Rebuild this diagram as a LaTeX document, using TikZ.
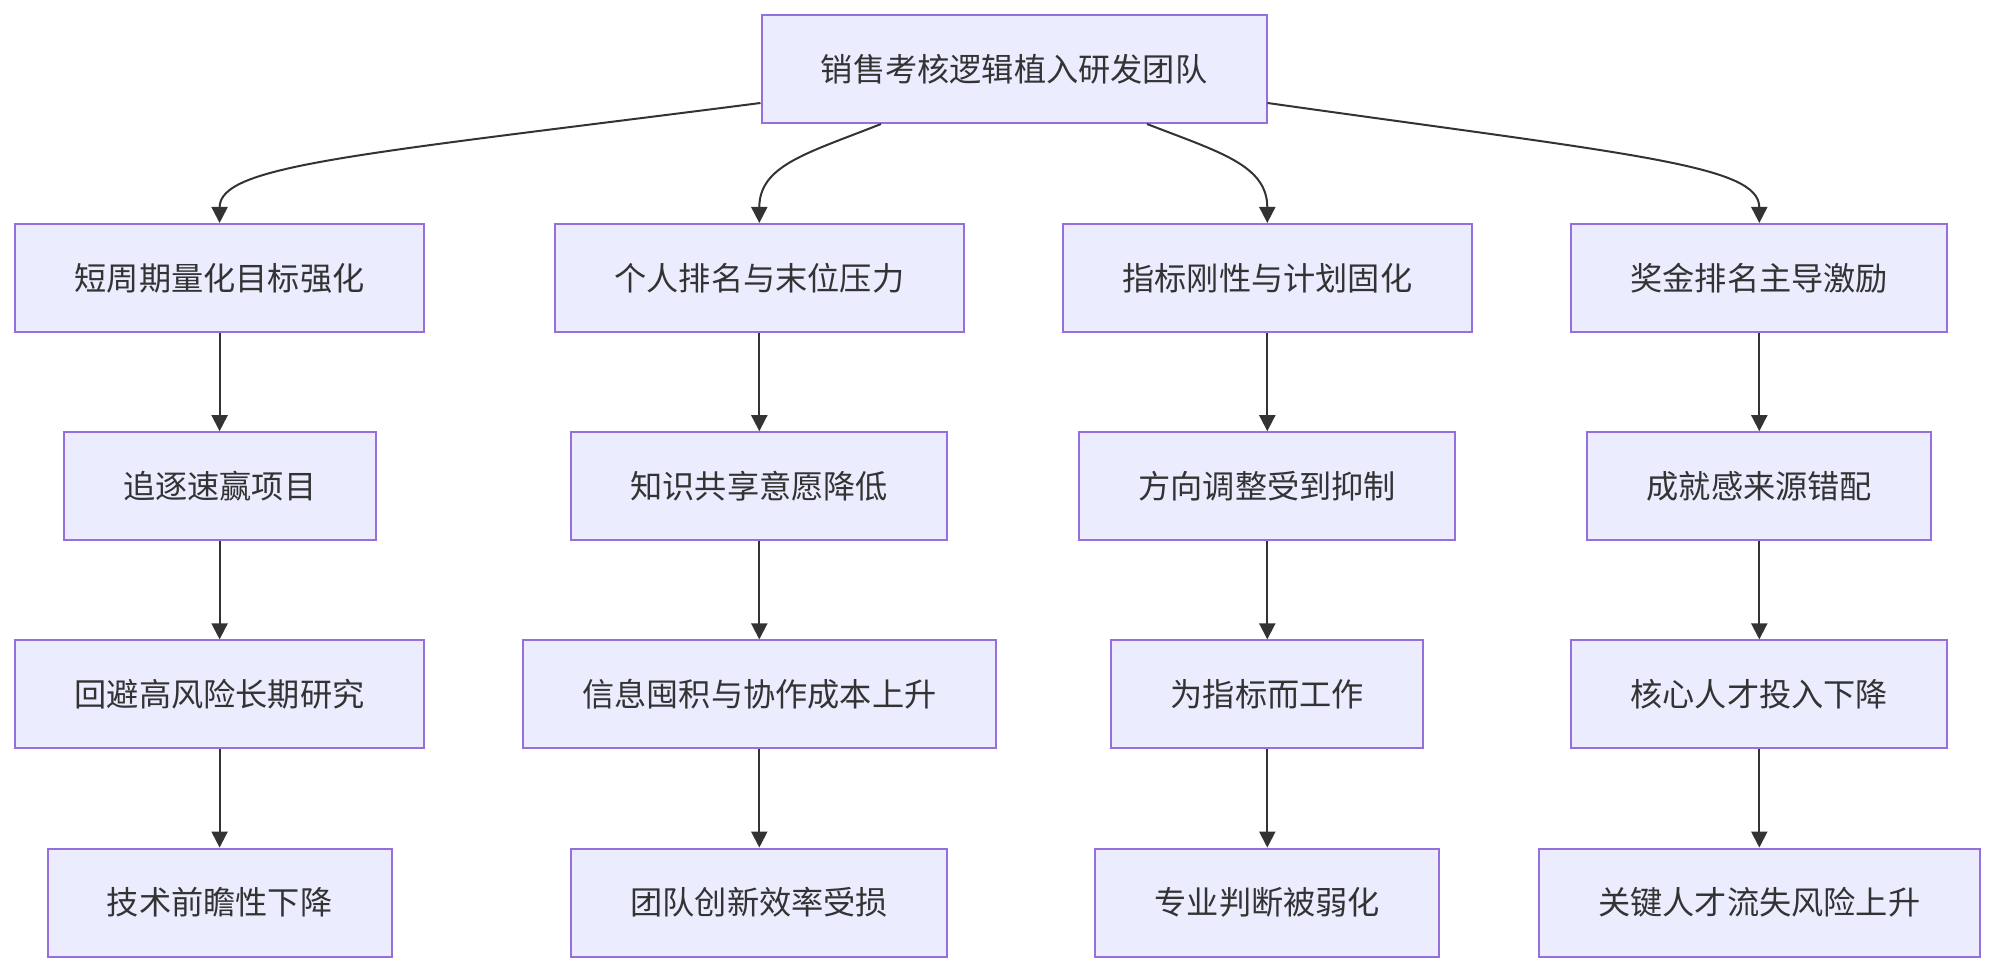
\documentclass[tikz,border=0pt]{standalone}
\usepackage{fontspec}
\setmainfont{Noto Sans CJK SC}
\usetikzlibrary{arrows.meta,positioning}
\definecolor{boxfill}{HTML}{ECECFF}
\definecolor{boxline}{HTML}{9370DB}
\definecolor{ink}{HTML}{333333}

\begin{document}
\begin{tikzpicture}[
 x=0.5pt,y=-0.5pt,
 node distance=49.1pt and 20pt,
 box/.style={draw=boxline,line width=1pt,fill=boxfill,text=ink,font=\fontsize{16.1pt}{19pt}\selectfont,inner xsep=29.65pt,minimum height=54pt},
 flow/.style={-{Triangle[length=8pt,width=8pt]},draw=ink,line width=1pt}]
\useasboundingbox (0,0) rectangle (1996,972);
\node[box] (root) at (1014,69) {销售考核逻辑植入研发团队};
\node[box] (short) at (219.6,278) {短周期量化目标强化};
\node[box] (rank) at (759.3,278) {个人排名与末位压力};
\node[box] (rigid) at (1267.3,278) {指标刚性与计划固化};
\node[box] (bonus) at (1759.3,278) {奖金排名主导激励};
\node[box,below=of short] (quick) {追逐速赢项目};
\node[box,below=of rank] (share) {知识共享意愿降低};
\node[box,below=of rigid] (adjust) {方向调整受到抑制};
\node[box,below=of bonus] (reward) {成就感来源错配};
\node[box,below=of quick] (avoid) {回避高风险长期研究};
\node[box,below=of share] (silo) {信息囤积与协作成本上升};
\node[box,below=of adjust] (metric) {为指标而工作};
\node[box,below=of reward] (invest) {核心人才投入下降};
\node[box,below=of avoid] (foresight) {技术前瞻性下降};
\node[box,below=of silo] (innov) {团队创新效率受损};
\node[box,below=of metric] (judge) {专业判断被弱化};
\node[box,below=of invest] (loss) {关键人才流失风险上升};
\draw[flow] ([yshift=-17pt]root.west) .. controls (355,155) and (219.6,165) .. (short.north);
\draw[flow] ([xshift=-66.5pt]root.south) .. controls (808,153) and (759.3,165) .. (rank.north);
\draw[flow] ([xshift=66.5pt]root.south) .. controls (1219,152) and (1267.3,165) .. (rigid.north);
\draw[flow] ([yshift=-17pt]root.east) .. controls (1636,155) and (1759.3,165) .. (bonus.north);
\draw[flow] (short)--(quick);
\draw[flow] (quick)--(avoid);
\draw[flow] (avoid)--(foresight);
\draw[flow] (rank)--(share);
\draw[flow] (share)--(silo);
\draw[flow] (silo)--(innov);
\draw[flow] (rigid)--(adjust);
\draw[flow] (adjust)--(metric);
\draw[flow] (metric)--(judge);
\draw[flow] (bonus)--(reward);
\draw[flow] (reward)--(invest);
\draw[flow] (invest)--(loss);
\end{tikzpicture}
\end{document}
